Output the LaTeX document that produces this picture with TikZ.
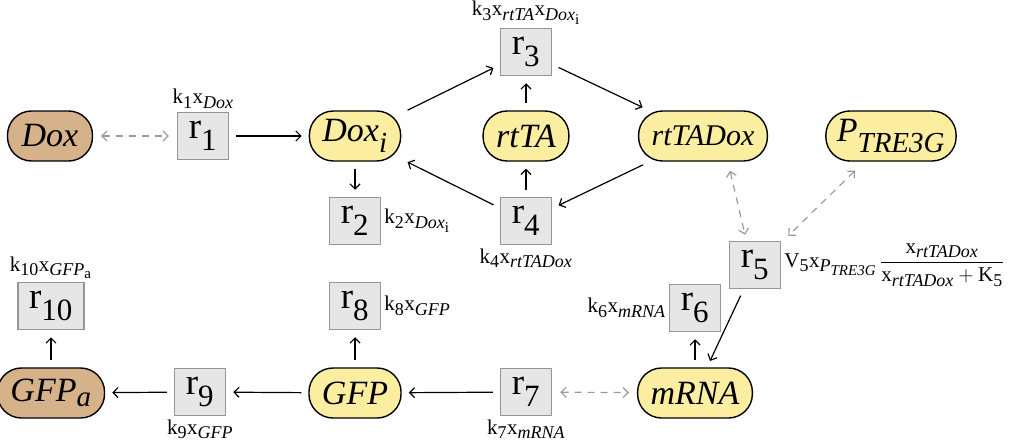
\documentclass[tikz,border=0pt]{standalone}
\usepackage{amsmath}
\usepackage{fontspec}
\setmainfont{Liberation Serif}
\usetikzlibrary{arrows.meta,calc,positioning}
\DeclareMathSizes{34}{34}{29}{24}
\DeclareMathSizes{37}{37}{31}{26}
\DeclareMathSizes{21}{21}{18}{15}
\definecolor{spyellow}{RGB}{252,238,160}
\definecolor{sptan}{RGB}{214,178,138}
\definecolor{boxfill}{RGB}{230,230,230}
\definecolor{boxgray}{RGB}{150,150,150}
\definecolor{modgray}{RGB}{155,155,155}
\begin{document}
\begin{tikzpicture}[x=1pt,y=-1pt,
  sp/.style={draw=black,line width=1.4pt,rounded corners=24pt,minimum height=50pt,minimum width=85pt,inner xsep=13pt,inner ysep=0pt,font=\fontsize{34}{34}\selectfont\itshape},
  spy/.style={sp,fill=spyellow},
  spb/.style={sp,fill=sptan},
  rx/.style={draw=boxgray,fill=boxfill,line width=1.5pt,minimum width=51pt,minimum height=47pt,inner xsep=10pt,inner ysep=0pt,font=\fontsize{37}{37}\selectfont},
  lab/.style={font=\fontsize{21}{21}\selectfont,inner sep=2pt},
  rxn/.style={line width=1.2pt,-{Straight Barb[length=5pt,width=10pt]},shorten <=7pt,shorten >=7pt},
  mod/.style={draw=modgray,line width=1.2pt,dash pattern=on 7pt off 6pt,{Straight Barb[length=5pt,width=10pt]}-{Straight Barb[length=5pt,width=10pt]}},
]
\useasboundingbox (0,0) rectangle (1023,444);
% species
\node[spb] (Dox) at (50,136) {Dox};
\node[spy] (Doxi) at (355,136) {Dox$_{\text{i}}$};
\node[spy] (rtTA) at (526,136) {rtTA};
\node[spy,inner xsep=13pt,font=\fontsize{30}{30}\selectfont\itshape] (rtTADox) at (703,136) {rtTADox};
\node[spy,inner xsep=11pt] (PTRE) at (891,136) {P$_{\text{TRE3G}}$};
\node[spb] (GFPa) at (51,393) {GFP$_{\text{a}}$};
\node[spy] (GFP) at (355,393) {GFP};
\node[spy] (mRNA) at (695,393) {mRNA};
% reactions
\node[rx] (r1) at (203,136) {r$_{\text{1}}$};
\node[rx] (r3) at (526,52) {r$_{\text{3}}$};
\node[rx] (r2) at (355,221) {r$_{\text{2}}$};
\node[rx] (r4) at (526,221) {r$_{\text{4}}$};
\node[rx] (r5) at (755,265) {r$_{\text{5}}$};
\node[rx] (r6) at (695,308) {r$_{\text{6}}$};
\node[rx] (r8) at (355,306) {r$_{\text{8}}$};
\node[rx,inner xsep=11pt] (r10) at (51,306) {r$_{\text{10}}$};
\node[rx] (r9) at (200,392) {r$_{\text{9}}$};
\node[rx] (r7) at (526,392) {r$_{\text{7}}$};
% rate labels
\node[lab,above=1pt of r1] (l1) {k$_{\text{1}}$x$_{\textit{Dox}}$};
\node[lab,above=1pt of r3] (l3) {k$_{\text{3}}$x$_{\textit{rtTA}}$x$_{\textit{Dox}_{\text{i}}}$};
\node[lab,right=1pt of r2] (l2) {k$_{\text{2}}$x$_{\textit{Dox}_{\text{i}}}$};
\node[lab,below=1pt of r4] (l4) {k$_{\text{4}}$x$_{\textit{rtTADox}}$};
\node[lab,right=1pt of r5] (l5) {V$_{\text{5}}$x$_{\textit{P}_{\textit{TRE3G}}}$\,$\dfrac{\text{x}_{\textit{rtTADox}}}{\text{x}_{\textit{rtTADox}}+\text{K}_{\text{5}}}$};
\node[lab,left=1pt of r6] (l6) {k$_{\text{6}}$x$_{\textit{mRNA}}$};
\node[lab,right=1pt of r8] (l8) {k$_{\text{8}}$x$_{\textit{GFP}}$};
\node[lab,above=1pt of r10] (l10) {k$_{\text{10}}$x$_{\textit{GFP}_{\text{a}}}$};
\node[lab,below=1pt of r9] (l9) {k$_{\text{9}}$x$_{\textit{GFP}}$};
\node[lab,below=1pt of r7] (l7) {k$_{\text{7}}$x$_{\textit{mRNA}}$};
% connectors
\draw[mod,shorten <=8pt,shorten >=8pt] (Dox) -- (r1);
\draw[rxn] (r1) -- (Doxi);
\draw[rxn] (Doxi) -- (r3);
\draw[rxn] (rtTA) -- (r3);
\draw[rxn] (r3) -- (rtTADox);
\draw[rxn] (rtTADox) -- (r4);
\draw[rxn] (r4) -- (rtTA);
\draw[rxn] (r4) -- (Doxi);
\draw[rxn] (Doxi) -- (r2);
\draw[mod] ($(rtTADox.south)+(27,9)$) -- ($(r5.north)+(-10,-6)$);
\draw[mod] ($(PTRE.south)+(-36,9)$) -- ($(r5.north east)+(7,-5)$);
\draw[rxn] (r5) -- (mRNA);
\draw[rxn] (mRNA) -- (r6);
\draw[mod,shorten <=8pt,shorten >=8pt] (r7) -- (mRNA);
\draw[rxn] (r7) -- (GFP);
\draw[rxn] (GFP) -- (r8);
\draw[rxn] (GFP) -- (r9);
\draw[rxn] (r9) -- (GFPa);
\draw[rxn] (GFPa) -- (r10);
\end{tikzpicture}
\end{document}
